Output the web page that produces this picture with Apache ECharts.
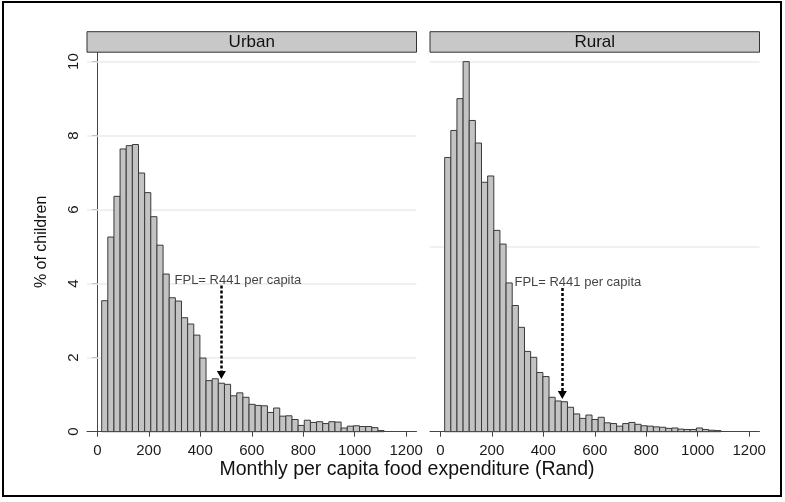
<!DOCTYPE html>
<html>
<head>
<meta charset="utf-8">
<script src="https://cdn.jsdelivr.net/npm/echarts@6/dist/echarts.min.js"></script>
<style>
  html, body { margin: 0; padding: 0; background: #fff; }
  #chart { width: 785px; height: 502px; }
</style>
</head>
<body>
<div id="chart"></div>
<script>
// Histogram bins of monthly per capita food expenditure (Rand), shared by both panels
const BIN_START = 17;
const BIN_WIDTH = 23.85;

const panelNames = ['Urban', 'Rural'];

// Percent of children in each bin
const urbanPct = [
  3.54, 5.26, 6.36, 7.64, 7.73, 7.76, 6.99, 6.46, 5.81, 5.04,
  4.26, 3.62, 3.53, 3.08, 2.91, 2.61, 1.99, 1.38, 1.43, 1.31,
  1.28, 0.97, 1.05, 0.93, 0.74, 0.71, 0.70, 0.52, 0.64, 0.42,
  0.43, 0.33, 0.17, 0.31, 0.25, 0.27, 0.22, 0.27, 0.26, 0.10,
  0.15, 0.16, 0.14, 0.14, 0.11, 0.03
];
const ruralPct = [
  7.41, 8.14, 9.00, 10.00, 8.41, 7.80, 6.74, 6.91, 5.44, 5.07,
  4.02, 3.41, 2.82, 2.17, 2.01, 1.60, 1.49, 0.93, 0.83, 0.81,
  0.66, 0.48, 0.36, 0.45, 0.33, 0.39, 0.24, 0.22, 0.15, 0.22,
  0.25, 0.20, 0.16, 0.15, 0.13, 0.12, 0.09, 0.10, 0.07, 0.06,
  0.06, 0.10, 0.06, 0.04, 0.03
];

const xTicks = [0, 200, 400, 600, 800, 1000, 1200];
const yTicks = [0, 2, 4, 6, 8, 10];
const urbanGridLines = [2, 4, 6, 8, 10];
const ruralGridLines = [5, 10];

// Food poverty line annotation: label anchor and arrow (x, from y, to y)
const fplText = 'FPL= R441 per capita';
const urbanFpl = { labelX: 300, labelY: 4.08, arrowX: 482, arrowFrom: 3.95, arrowTo: 1.53 };
const ruralFpl = { labelX: 288, labelY: 4.03, arrowX: 474, arrowFrom: 3.88, arrowTo: 0.99 };

const X_MIN = -40, X_MAX = 1240, Y_MAX = 10.26;
const FONT = '"Liberation Sans", Arial, sans-serif';

function toBins(values) {
  return values.map((v, i) => [BIN_START + i * BIN_WIDTH, BIN_START + (i + 1) * BIN_WIDTH, v]);
}

function renderBar(params, api) {
  const p0 = api.coord([api.value(0), api.value(2)]);
  const p1 = api.coord([api.value(1), 0]);
  return {
    type: 'rect',
    shape: { x: p0[0], y: p0[1], width: p1[0] - p0[0], height: p1[1] - p0[1] },
    style: { fill: '#c3c3c3', stroke: '#3a3a3a', lineWidth: 1 }
  };
}

const GRID_TOP = 52, GRID_H = 379.7, GRID_W = 329.5;
const gridLefts = [87, 430];

function xAxisFor(idx) {
  return {
    gridIndex: idx, type: 'value', min: X_MIN, max: X_MAX,
    axisLine: { show: true, lineStyle: { color: '#444', width: 1 } },
    axisTick: { show: true, length: 5, customValues: xTicks, lineStyle: { color: '#444' } },
    axisLabel: {
      customValues: xTicks, color: '#1a1a1a', fontSize: 15, fontFamily: FONT, margin: 12,
      formatter: v => String(v)
    },
    splitLine: { show: false }
  };
}

function gridLineSeries(idx, values) {
  return {
    type: 'line', xAxisIndex: idx, yAxisIndex: idx, data: [], z: 1, silent: true,
    markLine: {
      silent: true, symbol: 'none', animation: false, z: 1,
      label: { show: false },
      lineStyle: { color: '#ebebeb', width: 1.5, type: 'solid' },
      data: values.map(v => ({ yAxis: v }))
    }
  };
}

function fplSeries(idx, f) {
  return {
    type: 'scatter', xAxisIndex: idx, yAxisIndex: idx, z: 5, silent: true,
    symbolSize: 0,
    data: [[f.labelX, f.labelY]],
    label: {
      show: true, position: 'right', distance: 0, formatter: fplText,
      color: '#111', fontSize: 13, fontFamily: FONT
    },
    markLine: {
      silent: true, animation: false, z: 6,
      symbol: ['none', 'triangle'], symbolSize: [9, 8],
      label: { show: false },
      lineStyle: { color: '#000', width: 2.5, type: [3, 2] },
      data: [[{ coord: [f.arrowX, f.arrowFrom] }, { coord: [f.arrowX, f.arrowTo] }]]
    }
  };
}

const chart = echarts.init(document.getElementById('chart'), null, { renderer: 'canvas' });

const graphics = [
  // outer frame
  { type: 'rect', shape: { x: 3, y: 2, width: 778, height: 494 },
    style: { fill: 'none', stroke: '#000', lineWidth: 2 }, z: 0 },
  // x axis title
  { type: 'text', x: 407, y: 470, z: 10,
    style: { text: 'Monthly per capita food expenditure (Rand)', fill: '#111',
             font: '19.5px ' + FONT, textAlign: 'center', textVerticalAlign: 'middle' } }
];
panelNames.forEach((name, i) => {
  graphics.push({ type: 'rect', z: 10,
    shape: { x: gridLefts[i], y: 31.7, width: GRID_W, height: 20.5 },
    style: { fill: '#c8c8c8', stroke: '#333', lineWidth: 1 } });
  graphics.push({ type: 'text', z: 11, x: gridLefts[i] + GRID_W / 2, y: 42,
    style: { text: name, fill: '#111', font: '17px ' + FONT,
             textAlign: 'center', textVerticalAlign: 'middle' } });
});

chart.setOption({
  animation: false,
  backgroundColor: '#fff',
  grid: gridLefts.map(l => ({ left: l, top: GRID_TOP, width: GRID_W, height: GRID_H, containLabel: false })),
  xAxis: [xAxisFor(0), xAxisFor(1)],
  yAxis: [
    {
      gridIndex: 0, type: 'value', min: 0, max: Y_MAX,
      name: '% of children', nameLocation: 'middle', nameRotate: 90, nameGap: 37,
      nameTextStyle: { color: '#111', fontSize: 16, fontFamily: FONT },
      axisLine: { show: true, lineStyle: { color: '#444', width: 1 } },
      axisTick: { show: true, length: 5, customValues: yTicks, lineStyle: { color: '#444' } },
      axisLabel: { customValues: yTicks, rotate: 90, color: '#1a1a1a', fontSize: 15, fontFamily: FONT, margin: 6 },
      splitLine: { show: false }
    },
    {
      gridIndex: 1, type: 'value', min: 0, max: Y_MAX, show: false,
      splitLine: { show: false }
    }
  ],
  graphic: graphics,
  series: [
    gridLineSeries(0, urbanGridLines),
    gridLineSeries(1, ruralGridLines),
    {
      name: panelNames[0], type: 'custom', xAxisIndex: 0, yAxisIndex: 0, z: 2,
      renderItem: renderBar, encode: { x: [0, 1], y: 2 }, data: toBins(urbanPct)
    },
    {
      name: panelNames[1], type: 'custom', xAxisIndex: 1, yAxisIndex: 1, z: 2,
      renderItem: renderBar, encode: { x: [0, 1], y: 2 }, data: toBins(ruralPct)
    },
    fplSeries(0, urbanFpl),
    fplSeries(1, ruralFpl)
  ]
});
</script>
</body>
</html>
